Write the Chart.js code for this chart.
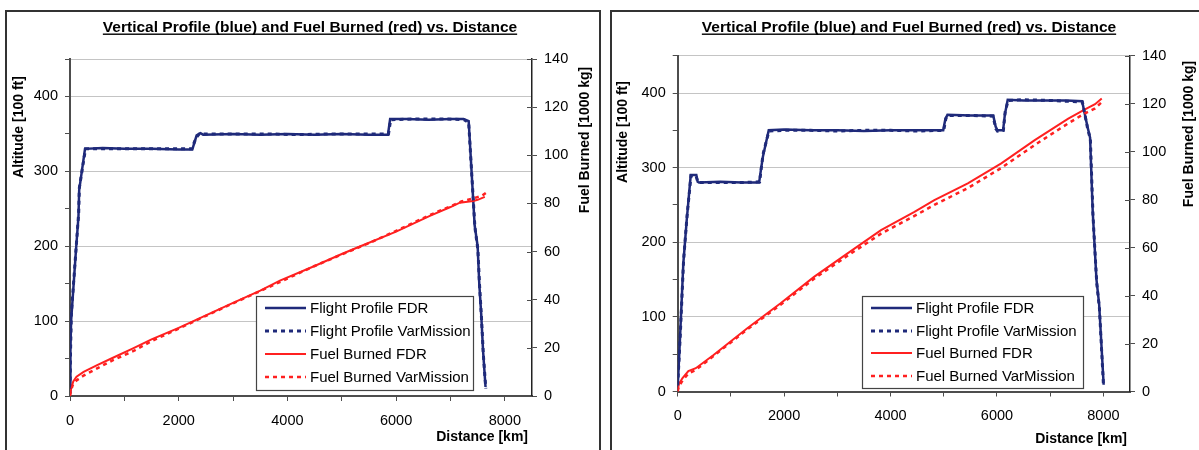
<!DOCTYPE html>
<html>
<head>
<meta charset="utf-8">
<script src="https://cdn.jsdelivr.net/npm/chart.js@4.4.1/dist/chart.umd.min.js"></script>
<style>
  html, body { margin: 0; padding: 0; background: #fff; overflow: hidden; }
  body { width: 1199px; height: 450px; position: relative; }
  canvas { position: absolute; top: 0; }
  #c1 { left: 0; }
  #c2 { left: 605px; }
  .frame { position: absolute; border: 2px solid #333; pointer-events: none; }
  #f1 { left: 5px; top: 10px; width: 592px; height: 470px; }
  #f2 { left: 610px; top: 10px; width: 640px; height: 470px; }
</style>
</head>
<body>
<canvas id="c1" width="600" height="450"></canvas>
<canvas id="c2" width="594" height="450"></canvas>
<div class="frame" id="f1"></div>
<div class="frame" id="f2"></div>
<script>
const FONT = '"Liberation Sans", Arial, sans-serif';
const NAVY = '#1f2a7a';
const RED = '#ff2020';
const AXIS = '#4d4d4d';

// labelled ticks
const distanceLabels = [0, 2000, 4000, 6000, 8000];
const altitudeLabels = [0, 100, 200, 300, 400];
const fuelLabels = [0, 20, 40, 60, 80, 100, 120, 140];

const seriesNames = ['Flight Profile FDR', 'Flight Profile VarMission', 'Fuel Burned FDR', 'Fuel Burned VarMission'];
const chartTitle = 'Vertical Profile (blue) and Fuel Burned (red) vs. Distance';

// flight 1 -- [distance km, altitude 100 ft]
const profileFdr1 = [[0,5],[8,60],[20,100],[110,195],[156,240],[169,275],[276,330],[600,331],[1000,330],[1500,330],
  [2000,329],[2250,329],[2330,348],[2400,351],[2450,349],[3000,350],[3500,349],[4000,350],[4500,349],[5000,350],
  [5500,349],[5850,349],[5890,370],[6200,370],[6600,369],[7000,370],[7240,370],[7335,367],[7445,228],[7500,200],
  [7530,150],[7565,110],[7600,60],[7645,12]];
const profileVar1 = [[0,10],[10,60],[25,110],[115,200],[160,245],[172,278],[285,330],[700,330],[1200,330],[1700,330],
  [2240,330],[2320,345],[2380,350],[3000,350],[3600,350],[4200,349],[4800,350],[5400,350],[5860,350],[5900,369],
  [6400,370],[6900,370],[7250,369],[7335,365],[7450,225],[7505,195],[7535,148],[7570,105],[7605,55],[7650,10]];
// flight 1 -- [distance km, fuel 1000 kg]
const fuelFdr1 = [[0,0],[20,3],[60,6],[120,8],[250,10],[500,12.8],[800,16],[1160,19.8],[1500,23.5],[2000,28.3],
  [2500,33.5],[3000,38.7],[3500,43.8],[3862,47.9],[4500,54],[5000,59],[5333,62.1],[6000,68.3],[6621,74.8],
  [7000,78.5],[7172,80.3],[7417,81],[7500,81.5],[7632,82.7]];
const fuelVar1 = [[0,0],[15,2],[50,4.5],[120,6.5],[250,8.5],[500,11.5],[800,15],[1160,18.6],[1500,22.8],[2000,28],
  [2500,33.3],[3000,38.5],[3500,43.6],[4000,48.8],[4500,54],[5000,58.8],[5500,63.5],[6000,68.6],[6621,75.2],
  [7000,78.8],[7200,80.8],[7450,82.3],[7580,83.2],[7650,84.3]];

// flight 2 -- [distance km, altitude 100 ft]
const profileFdr2 = [[0,5],[43,71],[106,172],[170,230],[245,290],[350,290],[375,281],[400,280],[800,281],[1200,280],
  [1530,280],[1570,300],[1602,315],[1711,350],[2000,351],[2500,350],[3000,350],[3500,349],[4000,350],[4500,350],
  [4990,350],[5030,365],[5070,371],[5500,370],[5930,370],[5975,355],[6008,350],[6115,350],[6150,372],[6202,391],
  [6500,390],[7000,390],[7300,390],[7600,389],[7700,355],[7750,340],[7800,240],[7870,150],[7920,117],[8005,9]];
const profileVar2 = [[0,8],[48,75],[110,175],[175,235],[250,289],[345,289],[380,280],[800,280],[1200,280],
  [1540,281],[1580,305],[1610,320],[1715,349],[2000,350],[2500,350],[3000,349],[3500,350],[4000,350],[4500,349],
  [5000,350],[5040,366],[5080,370],[5500,370],[5925,369],[5980,352],[6010,349],[6120,350],[6155,375],[6210,390],
  [6500,391],[7000,390],[7300,389],[7605,388],[7705,352],[7755,338],[7805,235],[7875,145],[7925,112],[8000,10]];
// flight 2 -- [distance km, fuel 1000 kg]
const fuelFdr2 = [[0,0],[20,3],[87,5.5],[200,8.5],[340,9.7],[674,15.2],[1302,26.3],[1934,36.8],[2562,47.8],
  [3192,57.6],[3821,67.3],[4449,74.9],[4823,79.8],[5452,86.8],[6081,95.1],[6710,104.8],[7340,113.8],[7654,117.6],
  [7843,119.8],[7969,122.2]];
const fuelVar2 = [[0,0],[20,2],[90,4.5],[200,7.5],[340,9],[674,14.8],[1302,25.8],[1934,36.2],[2562,47],
  [3192,56.6],[3821,65.8],[4449,73.2],[4823,77.8],[5452,84.8],[6081,93.2],[6710,102.8],[7340,111.8],[7654,116],
  [7843,118],[7960,120.5]];

// titles, axis names, legend box and the inner half of the right-hand ticks
const decor = {
  id: 'decor',
  afterDraw(chart, args, o) {
    const { ctx, chartArea: a } = chart;
    ctx.save();
    ctx.fillStyle = '#000';

    ctx.font = 'bold 15.5px ' + FONT;
    ctx.textAlign = 'center';
    ctx.textBaseline = 'alphabetic';
    ctx.fillText(chartTitle, o.title[0], o.title[1]);
    const tw = ctx.measureText(chartTitle).width;
    ctx.fillRect(o.title[0] - tw / 2, o.title[1] + 2, tw, 1.4);

    ctx.font = 'bold 14px ' + FONT;
    ctx.textBaseline = 'middle';
    [[o.altTitle, 'Altitude [100 ft]'], [o.fuelTitle, 'Fuel Burned [1000 kg]']].forEach(([p, txt]) => {
      ctx.save();
      ctx.translate(p[0], p[1]);
      ctx.rotate(-Math.PI / 2);
      ctx.fillText(txt, 0, 0);
      ctx.restore();
    });
    ctx.textAlign = 'right';
    ctx.fillText('Distance [km]', o.distTitle[0], o.distTitle[1]);

    const y1 = chart.scales.y1;
    ctx.strokeStyle = AXIS;
    ctx.lineWidth = 1;
    y1.ticks.forEach(t => {
      const py = Math.round(y1.getPixelForValue(t.value)) + 0.5;
      ctx.beginPath();
      ctx.moveTo(a.right - 5, py);
      ctx.lineTo(a.right, py);
      ctx.stroke();
    });

    const L = o.legend;
    ctx.fillStyle = '#fff';
    ctx.fillRect(L.x, L.y, L.w, L.h);
    ctx.strokeStyle = '#444';
    ctx.lineWidth = 1.2;
    ctx.strokeRect(L.x + 0.5, L.y + 0.5, L.w, L.h);
    ctx.font = '15px ' + FONT;
    ctx.textAlign = 'left';
    ctx.textBaseline = 'middle';
    chart.data.datasets.forEach((ds, i) => {
      const ry = L.rows[i];
      ctx.strokeStyle = ds.borderColor;
      ctx.lineWidth = ds.borderWidth;
      ctx.setLineDash(ds.borderDash || []);
      ctx.beginPath();
      ctx.moveTo(L.x + 9, ry);
      ctx.lineTo(L.x + 50, ry);
      ctx.stroke();
      ctx.setLineDash([]);
      ctx.fillStyle = '#000';
      ctx.fillText(ds.label, L.x + 54, ry + 1);
    });
    ctx.restore();
  }
};
Chart.register(decor);

function drawChart(id, series, geo) {
  const canvas = document.getElementById(id);
  const W = canvas.width, H = canvas.height;
  const styles = [
    { borderColor: NAVY, borderWidth: 2.5, yAxisID: 'y', order: 3 },
    { borderColor: NAVY, borderWidth: 3, borderDash: [4, 4], yAxisID: 'y', order: 1 },
    { borderColor: RED, borderWidth: 2, yAxisID: 'y1', order: 2 },
    { borderColor: RED, borderWidth: 2.5, borderDash: [4, 4], yAxisID: 'y1', order: 0 },
  ];
  const tickFont = { family: FONT, size: 14.5 };
  return new Chart(canvas, {
    type: 'line',
    data: {
      datasets: series.map((s, i) => Object.assign({
        label: seriesNames[i],
        data: s.map(p => ({ x: p[0], y: p[1] })),
        pointRadius: 0,
        tension: 0,
        fill: false,
      }, styles[i])),
    },
    options: {
      responsive: false,
      animation: false,
      devicePixelRatio: 1,
      layout: { padding: { top: geo.top, left: 0, right: 0, bottom: 0 } },
      plugins: { legend: { display: false }, tooltip: { enabled: false }, decor: geo },
      scales: {
        x: {
          type: 'linear', position: 'bottom', min: 0, max: 8500,
          // major ticks every 1000 km, labels every 2000 km
          afterBuildTicks: s => { s.ticks = Array.from({ length: 9 }, (_, i) => ({ value: i * 1000 })); },
          afterFit: s => { s.height = H - geo.bottom; },
          ticks: {
            autoSkip: false, maxRotation: 0, padding: 11, color: '#000', font: tickFont,
            callback: v => distanceLabels.includes(v) ? String(v) : '',
          },
          grid: { drawOnChartArea: false, tickLength: 5, color: AXIS },
          border: { color: AXIS, width: 2 },
        },
        y: {
          type: 'linear', position: 'left', min: 0, max: 450,
          afterFit: s => { s.width = geo.left; },
          ticks: {
            stepSize: 50, autoSkip: false, padding: 7, color: '#000', font: tickFont,
            callback: v => altitudeLabels.includes(v) ? String(v) : '',
          },
          grid: {
            color: c => (c.tick && c.tick.value > 0 && (c.tick.value % 100 === 0 || c.tick.value === 450)) ? '#c4c4c4' : 'rgba(0,0,0,0)',
            tickColor: AXIS, tickLength: 5,
          },
          border: { color: AXIS, width: 2 },
        },
        y1: {
          type: 'linear', position: 'right', min: 0, max: 140,
          afterFit: s => { s.width = W - geo.right; },
          ticks: {
            stepSize: 20, autoSkip: false, padding: 7, color: '#000', font: tickFont,
            callback: v => fuelLabels.includes(v) ? String(v) : '',
          },
          grid: { drawOnChartArea: false, tickLength: 5, color: AXIS },
          border: { color: '#222', width: 1.5 },
        },
      },
    },
  });
}

drawChart('c1', [profileFdr1, profileVar1, fuelFdr1, fuelVar1], {
  top: 59, bottom: 396, left: 70, right: 532,
  title: [310, 31.5], altTitle: [19, 127], fuelTitle: [585.5, 140], distTitle: [528, 437],
  legend: { x: 256, y: 296, w: 217, h: 94, rows: [308, 331, 354, 377] },
});

drawChart('c2', [profileFdr2, profileVar2, fuelFdr2, fuelVar2], {
  top: 55.7, bottom: 391.5, left: 72.7, right: 525,
  title: [304, 31.5], altTitle: [18, 132], fuelTitle: [584, 134], distTitle: [522, 439],
  legend: { x: 257, y: 296, w: 221, h: 92, rows: [308, 331, 353, 376] },
});
</script>
</body>
</html>
